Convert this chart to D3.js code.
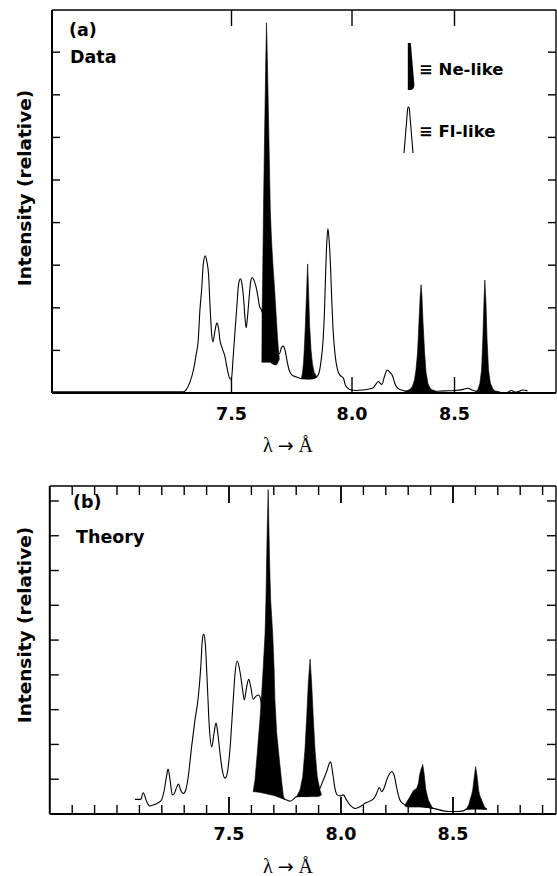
<!DOCTYPE html>
<html><head><meta charset="utf-8">
<script src="https://cdn.jsdelivr.net/npm/d3@7"></script>
<style>
body{margin:0;background:#fff;}
svg{display:block;}
text{font-family:"DejaVu Sans",sans-serif;font-weight:bold;fill:#000;}
</style></head><body>
<svg id="chart" width="557" height="876"></svg>
<script>
// ---------------- data ----------------
const xMajor = [7.5, 8.0, 8.5];
const xTickLabels = ["7.5", "8.0", "8.5"];
const xMinorTheory = d3.range(68, 90).map(d => d / 10);
const yTicksData = [1, 2, 3, 4, 5, 6, 7, 8];
const yTicksTheory = [1, 2, 3, 4, 5, 6, 7, 8, 9];
const yLabel = "Intensity (relative)";
const xLabelParts = ["\u03BB ", "\u2192", " \u00C5"];
const legendLabels = ["\u2261 Ne-like", "\u2261 Fl-like"];

// (a) Data: Fl-like continuum [wavelength (Å), intensity]
const dataFl = [[6.755,0.03],[7.299,0.03],[7.311,0.07],[7.328,0.26],[7.342,0.54],[7.353,0.89],[7.362,1.24],[7.369,1.95],[7.376,2.42],[7.383,3.03],[7.391,3.22],[7.398,3.08],[7.405,2.77],[7.411,2.04],[7.418,1.36],[7.423,1.20],[7.432,1.48],[7.439,1.64],[7.446,1.53],[7.452,1.24],[7.461,1.06],[7.473,0.85],[7.485,0.49],[7.494,0.33],[7.500,0.35],[7.507,0.85],[7.515,1.48],[7.522,2.02],[7.529,2.54],[7.537,2.68],[7.544,2.54],[7.550,2.23],[7.556,1.76],[7.561,1.53],[7.566,1.76],[7.573,2.23],[7.580,2.63],[7.586,2.71],[7.593,2.65],[7.602,2.49],[7.610,2.25],[7.616,2.04],[7.624,1.95],[7.660,1.13],[7.699,0.92],[7.707,1.06],[7.714,1.10],[7.722,1.01],[7.730,0.77],[7.739,0.54],[7.751,0.42],[7.763,0.39],[7.778,0.36],[7.790,0.34],[7.822,0.33],[7.853,0.38],[7.863,0.47],[7.871,0.73],[7.880,1.24],[7.886,1.95],[7.891,2.89],[7.896,3.59],[7.900,3.86],[7.905,3.59],[7.911,2.96],[7.916,2.18],[7.921,1.53],[7.930,0.89],[7.940,0.54],[7.950,0.42],[7.959,0.38],[7.965,0.34],[7.971,0.21],[7.979,0.13],[7.996,0.07],[8.020,0.06],[8.049,0.07],[8.078,0.09],[8.102,0.12],[8.117,0.21],[8.128,0.27],[8.137,0.23],[8.146,0.20],[8.159,0.40],[8.172,0.54],[8.185,0.49],[8.198,0.40],[8.210,0.21],[8.224,0.11],[8.249,0.06],[8.332,0.01],[8.415,0.04],[8.454,0.05],[8.502,0.06],[8.537,0.08],[8.566,0.11],[8.585,0.07],[8.605,0.04],[8.654,0.01],[8.705,0.04],[8.732,0.01],[8.756,0.01],[8.778,0.06],[8.795,0.02],[8.815,0.04],[8.832,0.07],[8.856,0.05]];

// (a) Data: Ne-like lines [wavelength, top, base]
const dataNe1 = [[7.626,0.72,0.72],[7.627,1.90,0.72],[7.629,2.61,0.72],[7.631,3.47,0.72],[7.633,4.41,0.72],[7.636,5.59,0.72],[7.639,6.64,0.72],[7.642,7.77,0.72],[7.644,8.33,0.72],[7.645,8.69,0.72],[7.647,8.33,0.72],[7.649,7.77,0.72],[7.653,6.64,0.72],[7.657,5.47,0.72],[7.661,4.30,0.72],[7.666,3.59,0.70],[7.672,3.00,0.68],[7.679,2.42,0.66],[7.686,1.76,0.66],[7.691,1.29,0.70],[7.695,1.01,0.75],[7.698,0.82,0.78]];
const dataNe2 = [[7.790,0.34,0.33],[7.795,0.49,0.33],[7.799,0.73,0.33],[7.803,1.13,0.33],[7.807,1.67,0.33],[7.811,2.30,0.33],[7.816,3.03,0.33],[7.820,2.37,0.33],[7.824,1.60,0.33],[7.830,1.01,0.33],[7.836,0.68,0.33],[7.843,0.49,0.34],[7.853,0.38,0.36]];
const dataNe3 = [[8.249,0.01,0],[8.268,0.05,0],[8.283,0.09,0],[8.295,0.16,0],[8.305,0.31,0],[8.312,0.54,0],[8.320,0.96,0],[8.327,1.71,0],[8.333,2.30,0],[8.337,2.54,0],[8.341,2.30,0],[8.346,1.71,0],[8.354,0.96,0],[8.361,0.49,0],[8.371,0.21,0],[8.385,0.09,0],[8.405,0.05,0],[8.415,0.02,0]];
const dataNe4 = [[8.602,0.01,0],[8.615,0.09,0],[8.624,0.23,0],[8.632,0.54,0],[8.638,1.24,0],[8.644,2.18,0],[8.648,2.65,0],[8.653,2.18,0],[8.659,1.24,0],[8.666,0.54,0],[8.675,0.23,0],[8.688,0.09,0],[8.705,0.02,0]];

// (b) Theory: Fl-like
const theoryFl = [[7.080,0.42],[7.106,0.42],[7.117,0.61],[7.133,0.35],[7.147,0.23],[7.162,0.26],[7.184,0.32],[7.200,0.42],[7.211,0.69],[7.222,1.12],[7.228,1.29],[7.237,0.98],[7.247,0.55],[7.256,0.59],[7.267,0.78],[7.275,0.86],[7.284,0.69],[7.296,0.59],[7.307,0.69],[7.318,1.07],[7.333,1.93],[7.348,2.70],[7.363,3.37],[7.374,4.23],[7.381,5.00],[7.387,5.17],[7.394,4.91],[7.403,3.76],[7.412,2.51],[7.423,1.93],[7.433,2.32],[7.442,2.62],[7.450,2.32],[7.460,1.74],[7.470,1.26],[7.482,1.03],[7.492,1.17],[7.504,1.84],[7.517,3.08],[7.527,4.04],[7.537,4.40],[7.549,4.09],[7.561,3.56],[7.568,3.28],[7.579,3.66],[7.588,3.87],[7.597,3.66],[7.608,3.30],[7.621,3.39],[7.631,3.42],[7.638,3.37],[7.683,0.69],[7.750,0.42],[7.758,0.40],[7.772,0.37],[7.787,0.42],[7.802,0.50],[7.862,0.52],[7.906,0.74],[7.921,0.98],[7.936,1.22],[7.948,1.46],[7.954,1.50],[7.961,1.26],[7.973,0.74],[7.983,0.55],[7.996,0.52],[8.010,0.55],[8.025,0.40],[8.040,0.26],[8.063,0.16],[8.085,0.21],[8.107,0.31],[8.129,0.37],[8.147,0.45],[8.159,0.59],[8.171,0.76],[8.182,0.64],[8.192,0.74],[8.204,0.98],[8.216,1.15],[8.226,1.22],[8.237,1.12],[8.249,0.74],[8.263,0.40],[8.278,0.29],[8.286,0.26],[8.353,0.22],[8.427,0.14],[8.457,0.09],[8.487,0.07],[8.517,0.07],[8.546,0.09],[8.561,0.14],[8.603,0.16],[8.651,0.14]];

// (b) Theory: Ne-like
const theoryNe1 = [[7.608,0.64,0.64],[7.616,0.98,0.64],[7.626,1.74,0.63],[7.638,2.70,0.62],[7.646,3.47,0.61],[7.653,4.23,0.60],[7.661,5.19,0.59],[7.665,6.15,0.58],[7.668,7.30,0.58],[7.671,8.30,0.57],[7.675,9.33,0.57],[7.678,8.30,0.56],[7.681,7.30,0.56],[7.686,6.15,0.55],[7.695,5.19,0.54],[7.701,4.23,0.53],[7.705,3.28,0.52],[7.713,2.32,0.50],[7.725,1.55,0.48],[7.736,0.88,0.46],[7.743,0.50,0.44],[7.750,0.42,0.42]];
const theoryNe2 = [[7.802,0.50,0.50],[7.817,0.69,0.50],[7.829,1.07,0.50],[7.839,1.84,0.50],[7.847,2.80,0.50],[7.854,3.76,0.50],[7.862,4.45,0.50],[7.869,3.76,0.50],[7.876,2.80,0.50],[7.884,1.84,0.50],[7.894,1.07,0.50],[7.906,0.69,0.52],[7.913,0.55,0.55]];
const theoryNe3 = [[8.286,0.26,0.22],[8.299,0.40,0.20],[8.308,0.50,0.20],[8.323,0.67,0.20],[8.338,0.74,0.20],[8.346,0.89,0.20],[8.350,1.09,0.20],[8.356,1.26,0.20],[8.365,1.42,0.20],[8.371,1.17,0.20],[8.375,0.92,0.20],[8.379,0.69,0.20],[8.390,0.40,0.19],[8.405,0.21,0.17],[8.412,0.16,0.16]];
const theoryNe4 = [[8.561,0.16,0.14],[8.570,0.26,0.14],[8.576,0.40,0.14],[8.583,0.55,0.14],[8.588,0.69,0.14],[8.595,1.07,0.14],[8.601,1.36,0.14],[8.608,1.07,0.14],[8.614,0.69,0.14],[8.620,0.52,0.14],[8.628,0.40,0.14],[8.640,0.21,0.14],[8.651,0.14,0.14]];

// ---------------- layout ----------------
const svg = d3.select("#chart");
const panels = [
  { tag: "(a)", title: "Data", fl: dataFl, ne: [dataNe1, dataNe2, dataNe3, dataNe4],
    x: d3.scaleLinear().domain(xMajor).range([231.5, 352, 454.5]),
    y: d3.scaleLinear().domain([0, 9]).range([393, 9.6]),
    L: 52, R: 556, T: 10, B: 393, yTicks: yTicksData, minor: [],
    tagPos: [69, 35.5], titlePos: [70, 63], tickLabelY: 420, xLabelY: 452, yLabelY: 188,
    sideLen: 8, majLen: 16, legend: true },
  { tag: "(b)", title: "Theory", fl: theoryFl, ne: [theoryNe1, theoryNe2, theoryNe3, theoryNe4],
    x: d3.scaleLinear().domain([7.5, 8.5]).range([229, 453]),
    y: d3.scaleLinear().domain([0, 9.43]).range([814, 486]),
    L: 49.8, R: 556, T: 486, B: 814, yTicks: yTicksTheory, minor: xMinorTheory,
    tagPos: [73, 507.5], titlePos: [76, 543], tickLabelY: 840, xLabelY: 873, yLabelY: 625,
    sideLen: 9, majLen: 17, legend: false }
];

panels.forEach(p => {
  const g = svg.append("g");
  const x = p.x, y = p.y;

  // Fl-like line
  const line = d3.line().x(d => x(d[0])).y(d => y(d[1])).curve(d3.curveMonotoneX);
  g.append("path").attr("d", line(p.fl)).attr("fill", "none")
    .attr("stroke", "#000").attr("stroke-width", 1.1).attr("stroke-linejoin", "round");

  // Ne-like filled lines
  const area = d3.area().x(d => x(d[0])).y0(d => y(d[2])).y1(d => y(d[1]));
  p.ne.forEach(pk => {
    g.append("path").attr("d", area(pk)).attr("fill", "#000")
      .attr("stroke", "#000").attr("stroke-width", 0.6).attr("stroke-linejoin", "round");
  });

  // frame
  const fr = g.append("g").attr("stroke", "#000").attr("fill", "none");
  fr.append("line").attr("x1", p.L).attr("x2", p.R).attr("y1", p.T).attr("y2", p.T).attr("stroke-width", 1.4);
  fr.append("line").attr("x1", p.L).attr("x2", p.R).attr("y1", p.B).attr("y2", p.B).attr("stroke-width", 2);
  fr.append("line").attr("x1", p.L).attr("x2", p.L).attr("y1", p.T).attr("y2", p.B).attr("stroke-width", 2);
  fr.append("line").attr("x1", p.R).attr("x2", p.R).attr("y1", p.T).attr("y2", p.B).attr("stroke-width", 1.4);

  // side ticks
  p.yTicks.forEach(t => {
    fr.append("line").attr("x1", p.L).attr("x2", p.L + p.sideLen).attr("y1", y(t)).attr("y2", y(t)).attr("stroke-width", 1.4);
    fr.append("line").attr("x1", p.R).attr("x2", p.R - p.sideLen).attr("y1", y(t)).attr("y2", y(t)).attr("stroke-width", 1.4);
  });
  // minor top/bottom ticks
  p.minor.forEach(t => {
    const isMaj = xMajor.some(m => Math.abs(m - t) < 1e-6);
    const len = isMaj ? p.majLen : 9;
    fr.append("line").attr("x1", x(t)).attr("x2", x(t)).attr("y1", p.T).attr("y2", p.T + len).attr("stroke-width", 1.4);
    fr.append("line").attr("x1", x(t)).attr("x2", x(t)).attr("y1", p.B).attr("y2", p.B - len).attr("stroke-width", 1.4);
  });
  // major ticks
  xMajor.forEach(t => {
    fr.append("line").attr("x1", x(t)).attr("x2", x(t)).attr("y1", p.T).attr("y2", p.T + p.majLen).attr("stroke-width", 1.4);
    fr.append("line").attr("x1", x(t)).attr("x2", x(t)).attr("y1", p.B).attr("y2", p.B - p.majLen).attr("stroke-width", 1.4);
  });

  // tick labels
  xMajor.forEach((t, i) => {
    g.append("text").attr("x", x(t)).attr("y", p.tickLabelY).attr("text-anchor", "middle")
      .attr("font-size", 17.5).text(xTickLabels[i]);
  });
  // x label
  const xl = g.append("text").attr("x", 288).attr("y", p.xLabelY).attr("text-anchor", "middle")
    .style("font-family", "'Liberation Serif','DejaVu Serif',serif").style("font-weight", "normal")
    .attr("font-size", 20);
  xl.append("tspan").text(xLabelParts[0]);
  xl.append("tspan").style("font-family", "'DejaVu Sans',sans-serif").attr("font-size", 19).text(xLabelParts[1]);
  xl.append("tspan").text(xLabelParts[2]);
  // y label
  g.append("text").attr("transform", `translate(31,${p.yLabelY}) rotate(-90)`)
    .attr("text-anchor", "middle").attr("font-size", 18.5).text(yLabel);
  // panel tag & title
  g.append("text").attr("x", p.tagPos[0]).attr("y", p.tagPos[1]).attr("font-size", 17.5).text(p.tag);
  g.append("text").attr("x", p.titlePos[0]).attr("y", p.titlePos[1]).attr("font-size", 17.5).text(p.title);

  if (p.legend) {
    const lg = g.append("g");
    lg.append("path").attr("d", "M407.8,43 L410.8,43 L414.4,85 Q414.2,90 410,90 L407.8,90 Z").attr("fill", "#000");
    lg.append("path").attr("d", "M404,153 L407.6,109 Q408.5,105 409.4,109 L413,153")
      .attr("fill", "none").attr("stroke", "#000").attr("stroke-width", 1.1);
    lg.append("text").attr("x", 419).attr("y", 75).attr("font-size", 16.5).text(legendLabels[0]);
    lg.append("text").attr("x", 419).attr("y", 137).attr("font-size", 16.5).text(legendLabels[1]);
  }
});
</script>
</body></html>
